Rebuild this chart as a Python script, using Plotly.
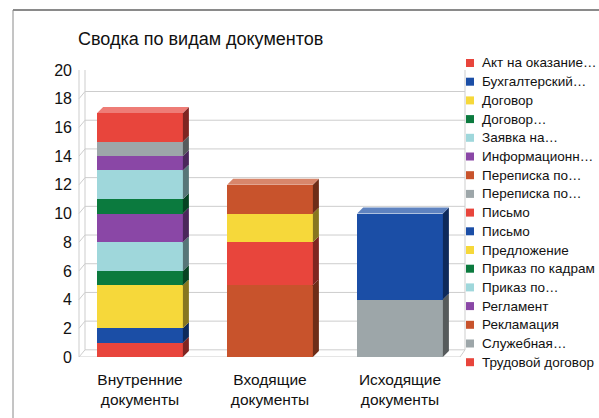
import plotly.graph_objects as go

# ---------------- data ----------------
categories = ["Внутренние<br>документы", "Входящие<br>документы", "Исходящие<br>документы"]
series_names = [
    "Акт на оказание…", "Бухгалтерский…", "Договор", "Договор…", "Заявка на…",
    "Информационн…", "Переписка по…", "Переписка по…", "Письмо", "Письмо",
    "Предложение", "Приказ по кадрам", "Приказ по…", "Регламент", "Рекламация",
    "Служебная…", "Трудовой договор",
]
series_colors = [
    "#E8453C", "#1B4EA6", "#F6D83A", "#0B7A3E", "#9FD7DB",
    "#8A47A6", "#C8532C", "#9DA6A9", "#E8453C", "#1B4EA6",
    "#F6D83A", "#0B7A3E", "#9FD7DB", "#8A47A6", "#C8532C",
    "#9DA6A9", "#E8453C",
]
values_internal = [1, 1, 3, 1, 2, 2, 0, 0, 0, 0, 0, 1, 2, 1, 0, 1, 2]
values_incoming = [0, 0, 0, 0, 0, 0, 5, 0, 3, 0, 2, 0, 0, 0, 2, 0, 0]
values_outgoing = [0, 0, 0, 0, 0, 0, 0, 4, 0, 6, 0, 0, 0, 0, 0, 0, 0]
y_ticks = list(range(0, 21, 2))
title_text = "Сводка по видам документов"

# ---------------- layout constants ----------------
W, H = 599, 418
L, R, T, B = 75, 134, 70, 61
PW, PH = W - L - R, H - T - B
FONT = "Liberation Sans, Arial, sans-serif"
BAR_W = 0.66
X_PER_PX = 3.0 / PW
Y_PER_PX = 20.0 / PH
DX = 6 * X_PER_PX
DY = 6 * Y_PER_PX


def px_x(px):
    return (px - L) / PW


def px_y(py):
    return (H - B - py) / PH


def shade(hexc, f):
    r, g, b = int(hexc[1:3], 16), int(hexc[3:5], 16), int(hexc[5:7], 16)
    if f < 1:
        r, g, b = int(r * f), int(g * f), int(b * f)
    else:
        t = f - 1
        r, g, b = int(r + (255 - r) * t), int(g + (255 - g) * t), int(b + (255 - b) * t)
    return f"rgb({r},{g},{b})"


fig = go.Figure()
xs = [0, 1, 2]
columns = [values_internal, values_incoming, values_outgoing]

for i, name in enumerate(series_names):
    fig.add_trace(go.Bar(
        x=xs, y=[c[i] for c in columns], name=name, width=BAR_W,
        marker=dict(color=series_colors[i], line=dict(width=0)),
        showlegend=False, hoverinfo="skip",
    ))

# 3D faces built from the same stacked values
for ci, col in enumerate(columns):
    base = 0
    xr = ci + BAR_W / 2
    xl = ci - BAR_W / 2
    last = None
    for i, v in enumerate(col):
        if v <= 0:
            continue
        y0, y1 = base, base + v
        fig.add_trace(go.Scatter(
            x=[xr, xr + DX, xr + DX, xr, xr], y=[y0, y0 + DY, y1 + DY, y1, y0],
            fill="toself", fillcolor=shade(series_colors[i], 0.55), mode="none",
            showlegend=False, hoverinfo="skip",
        ))
        base = y1
        last = i
    if last is not None:
        fig.add_trace(go.Scatter(
            x=[xl, xl + DX, xr + DX, xr, xl], y=[base, base + DY, base + DY, base, base],
            fill="toself", fillcolor=shade(series_colors[last], 1.3), mode="none",
            showlegend=False, hoverinfo="skip",
        ))

shapes = []
GRID = "#cdcdcd"
# back wall gridlines + left wall diagonals
for v in y_ticks:
    shapes.append(dict(type="line", xref="paper", yref="y", x0=px_x(85), x1=px_x(465),
                       y0=v + 0.5, y1=v + 0.5, line=dict(color=GRID, width=1), layer="below"))
    shapes.append(dict(type="line", xref="paper", yref="y", x0=px_x(79), x1=px_x(85),
                       y0=v, y1=v + 0.5, line=dict(color=GRID, width=1), layer="below"))
shapes.append(dict(type="line", xref="paper", yref="y", x0=px_x(79), x1=px_x(79),
                   y0=0, y1=20, line=dict(color=GRID, width=1), layer="below"))
shapes.append(dict(type="line", xref="paper", yref="y", x0=px_x(85), x1=px_x(85),
                   y0=0.5, y1=20.5, line=dict(color=GRID, width=1), layer="below"))
shapes.append(dict(type="line", xref="paper", yref="y", x0=px_x(465), x1=px_x(465),
                   y0=0.5, y1=20.5, line=dict(color=GRID, width=1), layer="below"))
shapes.append(dict(type="line", xref="paper", yref="y", x0=px_x(79), x1=px_x(460),
                   y0=0, y1=0, line=dict(color=GRID, width=1), layer="below"))
shapes.append(dict(type="line", xref="paper", yref="y", x0=px_x(460), x1=px_x(465),
                   y0=0, y1=0.5, line=dict(color=GRID, width=1), layer="below"))
# outer frame
shapes.append(dict(type="line", xref="paper", yref="paper", x0=px_x(13), x1=px_x(W),
                   y0=px_y(10), y1=px_y(10), line=dict(color="#8a8a8a", width=2)))
shapes.append(dict(type="line", xref="paper", yref="paper", x0=px_x(13), x1=px_x(13),
                   y0=px_y(10), y1=px_y(H), line=dict(color="#8a8a8a", width=1)))

# legend (text annotations + square markers)
annotations = []
for i, name in enumerate(series_names):
    yc = 63 + i * 18.7
    shapes.append(dict(type="rect", xref="paper", yref="paper",
                       x0=px_x(466), x1=px_x(474), y0=px_y(yc - 4), y1=px_y(yc + 4),
                       fillcolor=series_colors[i], line=dict(width=0)))
    annotations.append(dict(xref="paper", yref="paper", x=px_x(480), y=px_y(yc),
                            xanchor="left", yanchor="middle", text=name, showarrow=False,
                            font=dict(family=FONT, size=13.5, color="#111")))

fig.update_layout(
    width=W, height=H, margin=dict(l=L, r=R, t=T, b=B, pad=0, autoexpand=False),
    paper_bgcolor="white", plot_bgcolor="white",
    barmode="stack", bargap=0,
    title=dict(text=title_text, x=78 / W, xref="container", xanchor="left",
               y=1 - 39 / H, yref="container", yanchor="middle",
               font=dict(family=FONT, size=18, color="#111")),
    xaxis=dict(range=[-0.5, 2.5], tickvals=xs, ticktext=categories, showgrid=False,
               zeroline=False, showline=False, ticks="", ticklabelstandoff=11,
               automargin=False,
               tickfont=dict(family=FONT, size=15.5, color="#111")),
    yaxis=dict(range=[0, 20], tickvals=y_ticks, showgrid=False, zeroline=False,
               showline=False, ticks="", ticklabelstandoff=2, automargin=False,
               tickfont=dict(family=FONT, size=16, color="#111")),
    shapes=shapes, annotations=annotations, showlegend=False,
)

fig.write_html("out.html")
